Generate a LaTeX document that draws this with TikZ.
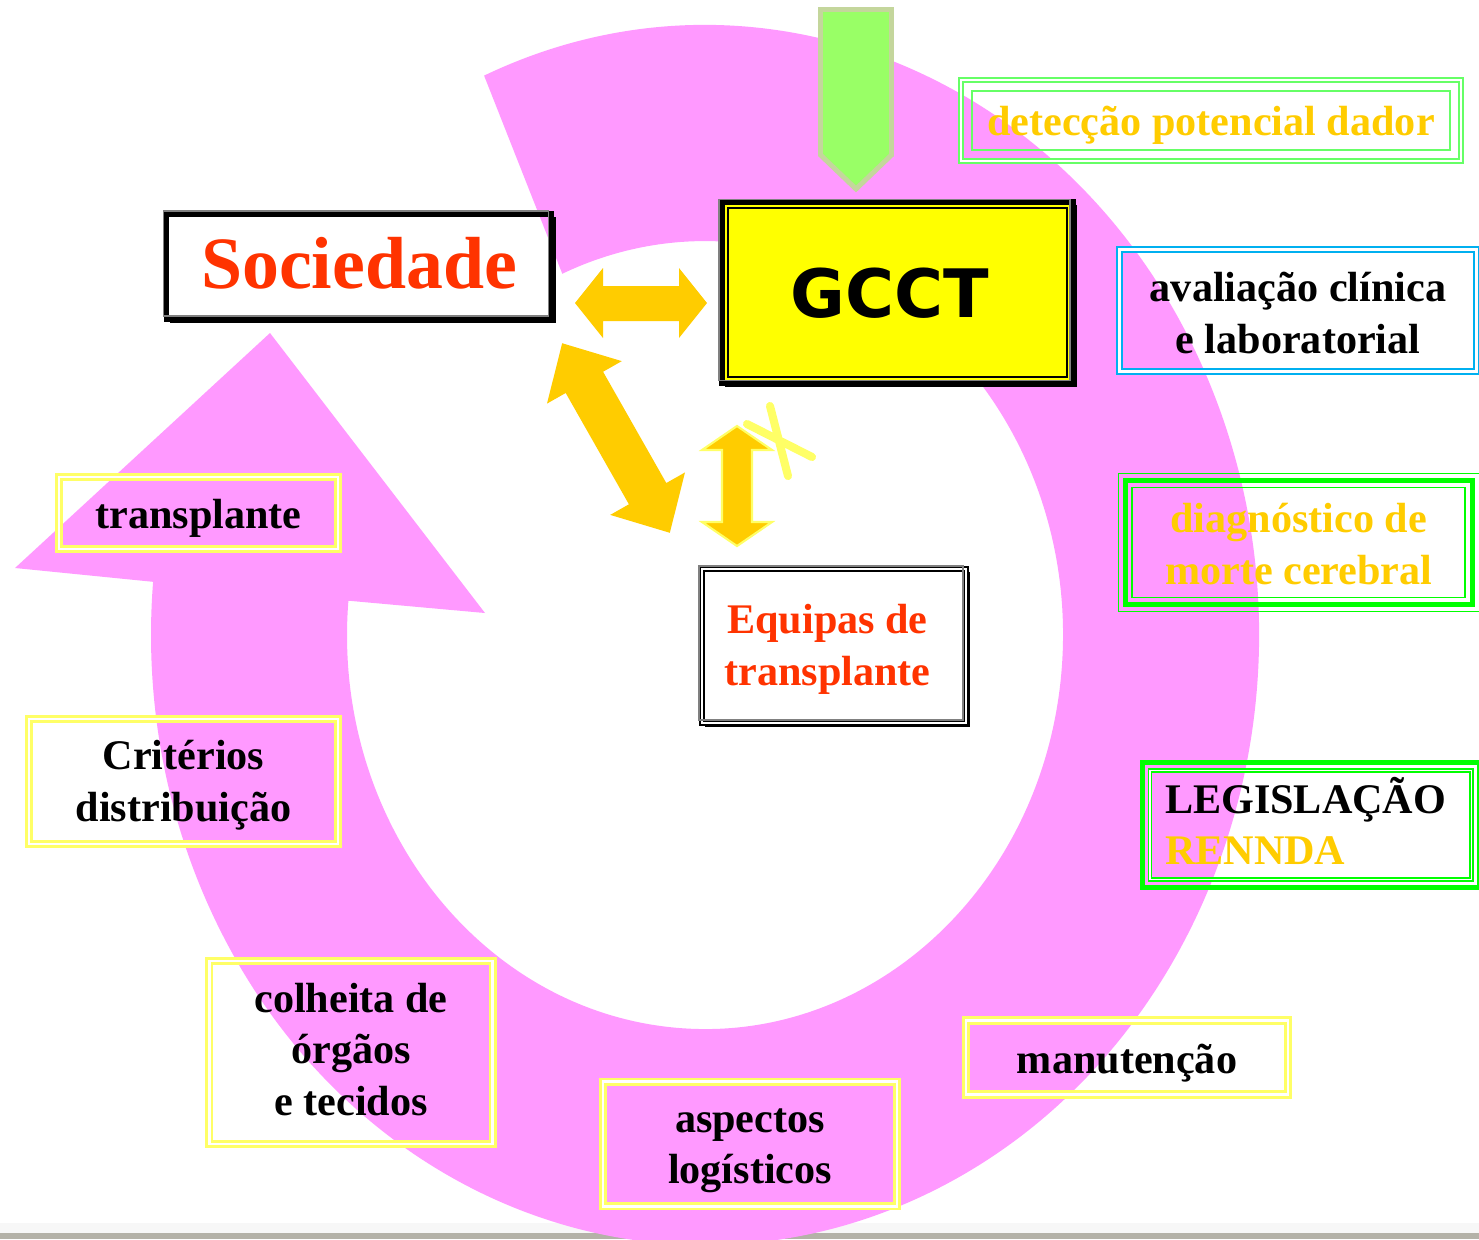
\documentclass[tikz,border=0pt]{standalone}
\usepackage{fontspec}
\setmainfont{Liberation Serif}
\newfontfamily\blockfont{DejaVu Sans}
\usetikzlibrary{calc}

\definecolor{ringpink}{HTML}{FF99FF}
\definecolor{arrowgold}{HTML}{FFCC00}
\definecolor{paleyellow}{HTML}{FFFF66}
\definecolor{gccyellow}{HTML}{FFFF00}
\definecolor{socred}{HTML}{FF3300}
\definecolor{limegreen}{HTML}{99FF66}
\definecolor{limeedge}{HTML}{C4D69C}
\definecolor{softgreen}{HTML}{66FF66}
\definecolor{puregreen}{HTML}{00FF00}
\definecolor{skyblue}{HTML}{00B0F0}
\definecolor{screenlight}{HTML}{F7F7F7}
\definecolor{screengray}{HTML}{B4B2A8}

\begin{document}
\begin{tikzpicture}[x=0.1mm, y=0.1mm,% one unit = one pixel
 txt/.style = {font=\fontsize{12}{14.6}\selectfont\bfseries,
               align=center, inner sep=0pt, outer sep=0pt, text depth=0pt},
ybox/.style = {txt, draw=paleyellow, line width=0.8pt,
               double=white, double distance=0.8pt},
gbox/.style = {txt, text=arrowgold, draw=softgreen, line width=0.65pt,
               double=white, double distance=0.55pt},
bbox/.style = {txt, draw=skyblue, line width=0.6pt,
               double=white, double distance=0.85pt},
hbox/.style = {txt, draw=puregreen, line width=1.4pt},
kbox/.style = {draw, line width=1.7pt, inner sep=0pt, outer sep=0pt, text depth=0pt},
shade line/.style = {gray, line width=0.4pt}
                    ]
	\useasboundingbox (0,0) rectangle (1479,-1239);
	\fill[white] (0,0) rectangle (1479,-1239);
	% screen edge at the bottom
	\fill[screenlight] (0,-1223) rectangle (1479,-1233);
	\fill[screengray]  (0,-1233) rectangle (1479,-1239);

	% pink cycle arrow
	\fill[ringpink] (484.1,-75.6)
	    arc[start angle=113.5, end angle=-185, x radius=5.54cm, y radius=6.10cm]
	    -- (15,-568) -- (270,-333) -- (485,-613) -- (348.4,-600.7)
	    arc[start angle=-185, end angle=113.5, x radius=3.58cm, y radius=3.94cm]
	    -- cycle;

	% green arrow from the top
	\draw[draw=limeedge, fill=limegreen, line width=1.4pt]
	    (820.5,-9.5) -- (891.5,-9.5) -- (891.5,-155) -- (856,-189)
	    -- (820.5,-155) -- cycle;

	% gold double arrows
	\fill[arrowgold] (575,-303) -- (603,-268) -- (603,-286) -- (679,-286)
	    -- (679,-268) -- (707,-303) -- (679,-338) -- (679,-321)
	    -- (603,-321) -- (603,-338) -- cycle;
	\begin{scope}[shift={(616,-438)}, rotate=-60.4]
	\fill[arrowgold] (-109,0) -- (-64,43) -- (-64,21.5) -- (64,21.5)
	    -- (64,43) -- (109,0) -- (64,-43) -- (64,-21.5)
	    -- (-64,-21.5) -- (-64,-43) -- cycle;
	\end{scope}
	\draw[draw=paleyellow, fill=arrowgold, line width=0.6pt]
	    (737,-426) -- (772,-450) -- (752,-450) -- (752,-522) -- (772,-522)
	    -- (737,-546) -- (702,-522) -- (722,-522) -- (722,-450)
	    -- (702,-450) -- cycle;
	\draw[paleyellow, line width=2.3pt, line cap=round]
	    (770,-406) -- (788,-476)  (747,-424) -- (812,-457);

	% Sociedade
	\node (soc) [kbox, text=socred, font=\fontsize{21}{25}\selectfont\bfseries,
	             minimum width=3.85cm, minimum height=1.05cm, text height=0.43cm]
	             at (359,-266.5) {Sociedade};
	\draw[shade line] ($(soc.north west)+(-3,3)$) rectangle ($(soc.south east)+(-3,3)$);
	\draw[line width=0.7pt] ($(soc.north east)+(3,-3)$) |- ($(soc.south west)+(3,-3)$);

	% GCCT
	\node (gcct) [kbox, fill=gccyellow, minimum width=3.51cm, minimum height=1.81cm,
	              text height=0.485cm,
	              font=\blockfont\bfseries\fontsize{19}{22}\selectfont]
	              at (897.5,-292.75) {GCCT\hspace*{0.16cm}};
	\draw[line width=0.6pt] ($(gcct.north west)+(6,-6)$) rectangle ($(gcct.south east)+(-6,6)$);
	\draw[shade line] ($(gcct.north west)+(-3,3)$) rectangle ($(gcct.south east)+(-3,3)$);
	\draw[line width=0.7pt] ($(gcct.north east)+(3,-3)$) |- ($(gcct.south west)+(3,-3)$);

	% Equipas de transplante
	\node (eq) [txt, text=socred, draw, line width=0.45pt, double=white,
	            double distance=0.6pt, minimum width=2.64cm, minimum height=1.54cm,
	            text height=0.78cm]
	            at (834,-646) {Equipas de\hspace*{0.13cm}\\transplante\hspace*{0.13cm}};
	\draw[shade line] ($(eq.north west)+(-3,3)$) rectangle ($(eq.south east)+(-3,3)$);
	\draw[line width=0.6pt] ($(eq.north east)+(3,-3)$) |- ($(eq.south west)+(3,-3)$);

	% right column
	\node (det) [gbox, minimum width=5cm, minimum height=0.81cm, text height=0.29cm]
	            at (1211,-120.5) {detecção potencial dador};
	\draw[softgreen, line width=0.8pt] ($(det.north west)+(11,-11)$) rectangle ($(det.south east)+(-11,11)$);

	\node (ava) [bbox, minimum width=3.57cm, minimum height=1.22cm, text height=0.85cm]
	            at (1298,-310.5) {avaliação clínica\\e laboratorial};

	\node (diag) [hbox, text=arrowgold, minimum width=3.47cm, minimum height=1.24cm,
	              text height=0.83cm]
	             at (1298.75,-542.5) {diagnóstico de\\morte cerebral};
	\draw[puregreen, line width=0.35pt] ($(diag.north west)+(-7,7)$) rectangle ($(diag.south east)+(7,-7)$);
	\draw[puregreen, line width=0.5pt]  ($(diag.north west)+(7,-7)$) rectangle ($(diag.south east)+(-7,7)$);

	\node (leg) [hbox, align=left, text width=2.915cm, inner xsep=0.225cm,
	             minimum height=1.25cm, text height=0pt, text depth=0.24cm]
	             at (1310.75,-825) {LEGISLAÇÃO\\\textcolor{arrowgold}{RENNDA}};
	\draw[puregreen, line width=0.35pt, double=white, double distance=0.5pt]
	    ($(leg.north west)+(7.5,-8)$) rectangle ($(leg.south east)+(-7.5,8)$);

	% yellow boxes along the cycle
	\node (man) [ybox, minimum width=3.22cm, minimum height=0.74cm, text height=0.31cm]
	            at (1127,-1057.5) {manutenção};
	\node (asp) [ybox, minimum width=2.94cm, minimum height=1.245cm, text height=0.79cm]
	            at (750,-1144) {aspectos\\logísticos};
	\node (col) [ybox, minimum width=2.835cm, minimum height=1.83cm, text height=1.25cm]
	            at (351,-1052.5) {colheita de\\órgãos\\e tecidos};
	\node (cri) [ybox, minimum width=3.09cm, minimum height=1.25cm, text height=0.79cm]
	            at (183.5,-781.5) {Critérios\\distribuição};
	\node (trp) [ybox, minimum width=2.79cm, minimum height=0.72cm, text height=0.306cm]
	            at (198.5,-513) {transplante};
\end{tikzpicture}
\end{document}
